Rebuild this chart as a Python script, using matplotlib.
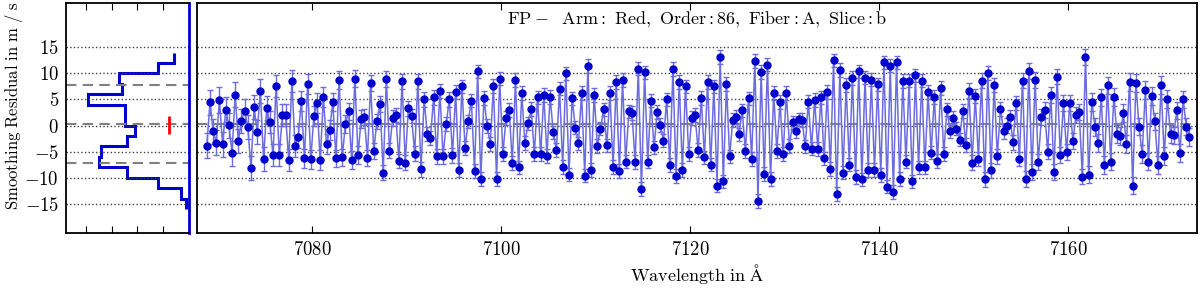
import numpy as np
import matplotlib
matplotlib.use('Agg')
import matplotlib.pyplot as plt

plt.rcParams['mathtext.fontset'] = 'cm'
plt.rcParams['font.family'] = ['cmr10', 'DejaVu Serif']
plt.rcParams['axes.formatter.use_mathtext'] = True
plt.rcParams['font.size'] = 13

# FP comb lines: first line and line spacing (Angstrom)
wl_first = 7068.84
wl_step = 0.3332

# smoothing residuals in m/s, read point by point from left to right
residual = [
    -3.9, 4.5, -1.1, -3.3, 4.9, -3.6, 3.0, 0.1, -5.3, 5.9,
    -2.9, 0.9, 2.8, -0.2, -8.1, 3.5, -1.3, 6.6, -6.5, 3.3,
    0.6, -5.6, 7.5, -5.6, 2.0, 2.0, -6.6, 8.5, -3.9, -2.2,
    4.7, -6.3, 8.0, -6.5, 1.9, 4.3, -6.6, 5.5, -3.6,
    -0.8, 4.5, -6.3, 8.7, -6.1, 0.3, 2.7, -6.6, 9.0, -5.7,
    1.2, 1.7, -6.2, 8.1, -4.9, 0.8, 4.1, -9.0, 8.9, -4.8,
    1.5, 2.0, -6.8, 8.5, -7.1, 3.3, 1.8, -5.4, 8.5, -8.4,
    5.0, -1.6, -2.4, 5.4, -5.9, 6.6, -5.9, 0.3, 5.0, -5.7,
    6.4, -8.5, 7.5, -4.3, 0.8, 4.8, -8.7, 10.4, -10.2, 5.3,
    -0.1, -3.5, 7.6, -10.2, 9.0, -5.5, 1.4, 3.0, -7.2, 8.7,
    -8.0, 6.2, -3.3, 0.4, 3.2, -5.5, 5.4, -5.5, 5.9, -5.8,
    5.5, -1.3, -4.7, 7.1, -7.9, 10.0, -9.4, 5.2, -0.4, -3.4,
    6.2, -9.6, 11.4, -8.5, 5.9, -3.9, -0.6, 3.1, -3.8, 6.2,
    -7.9, 8.3, -8.7, 8.7, -6.9, 2.7, 2.4, -7.0, 10.9, -12.2,
    10.2, -6.9, 4.8, -4.2, 2.6, 0.1, -2.9, 5.0, -7.6, 10.8,
    -9.7, 8.4, -8.5, 7.5, -5.4, 1.5, 2.0, -4.7, 5.3, -6.1,
    8.4, -7.5, 7.5, -11.5, 13.1, -10.7, 8.0, -5.9, 1.1, 1.6,
    -1.7, 2.9, -4.9, 5.2, -6.4, 12.4, -14.5, 10.3, -9.3, 11.7,
    -10.2, 6.2, -4.9, 4.5, -5.5, 6.2, -3.9, 0.6, -1.0, 1.2,
    1.1, -4.0, 4.6, -4.4, 4.9, -4.5, 5.4, -6.3, 6.4,
    -8.3, 12.5, -13.1, 10.6, -9.0, 7.8, -7.5, 9.1, -9.9, 10.4,
    -10.3, 9.2, -8.5, 8.8, -8.5, 7.9, -9.5, 12.1, -11.7, 11.5,
    -12.7, 12.1, -10.2, 8.5, -6.9, 8.6, -10.7, 9.6, -8.0, 8.6,
    -8.0, 6.4, -5.2, 5.5, -6.8, 7.2, -5.4, 3.1, -1.0, 1.4,
    -0.6, -2.7, 2.8, -3.7, 6.7, -7.1, 5.7, -6.4, 8.6, -10.3,
    10.1, -8.6, 7.8, -5.9, 3.2, -1.1, 0.0, 1.6, -3.2, 4.3,
    -6.4, 8.6, -10.3, 10.4, -8.9, 8.7, -7.0, 1.6, 3.0, -5.0,
    5.9, -8.9, 9.4, -5.7, 4.3, -5.1, 4.3, -2.9, 2.0,
    2.6, -9.8, 13.1, -9.4, 4.5, -0.3, -3.3, 5.4, -7.6, 7.7,
    -6.9, 5.5, -1.6, -2.0, 2.4, -3.5, 8.4, -11.5, 8.1, -0.2,
    -5.5, 6.8, -6.9, 5.7, 0.8, -7.5, 7.8, -5.9, 5.1, -1.6,
    -1.9, 2.9, -5.2, 5.0, -0.2, -2.2,
]

# error bar half-lengths (m/s), read in stretches along the order
residual_err = ([2.4] * 10 + [2.3] * 10 + [2.1] * 10 + [1.9] * 10 + [1.7] * 10
                + [1.5] * 10 + [1.4] * 20 + [1.3] * 160 + [1.4] * 20
                + [1.5] * 20 + [1.7] * 33)

# histogram of the residuals (left panel)
hist_edges = [-16, -14, -12, -10, -8, -6, -4, -2, 0, 2, 4, 6, 8, 10, 12, 14]
hist_counts = [1, 3, 12, 24, 35, 34, 24, 21, 25, 25, 39, 26, 27, 12, 6]

res_mean = 0.3
res_std = 7.4
median_err = 1.75
err_marker_pos = 7.7

y_ticks = [-15, -10, -5, 0, 5, 10, 15]
x_ticks = [7080, 7100, 7120, 7140, 7160]

wl = wl_first + wl_step * np.arange(len(residual))


def cm(v):
    return r'$\mathrm{%s}$' % v


title = cm(r'FP-\ \ Arm:\ Red,\ Order:86,\ Fiber:A,\ Slice:b')
blue = '#0000cc'
light = '#6c6ce0'

fig = plt.figure(figsize=(12, 2.88), dpi=100)
ax_h = fig.add_axes([66 / 1200, 55 / 288, 123 / 1200, 230 / 288])
ax = fig.add_axes([197 / 1200, 55 / 288, 1000 / 1200, 230 / 288])

ylims = (-20.6, 23.5)

# left: histogram
ax_h.stairs(hist_counts, hist_edges, orientation='horizontal', color=blue, lw=2.2, baseline=None)
for yy in (res_mean, res_mean + res_std, res_mean - res_std):
    ax_h.axhline(yy, ls='--', color='gray', lw=1.5, dashes=(5, 3))
ax_h.errorbar(err_marker_pos, 0.05, yerr=median_err, fmt='none', ecolor='red', elinewidth=2)
ax_h.set_xlim(47.7, 0)
ax_h.set_ylim(*ylims)
ax_h.set_yticks(y_ticks)
ax_h.set_yticklabels([cm(t) for t in y_ticks], fontsize=13.5)
ax_h.set_xticks([0, 10, 20, 30, 40])
ax_h.set_xticklabels([])
ax_h.yaxis.grid(True, ls=':', color='0.25', lw=1)
ax_h.tick_params(axis='x', direction='in', top=True, length=5)
ax_h.tick_params(axis='y', length=0, pad=5)
ax_h.spines['right'].set_color(blue)
ax_h.spines['right'].set_linewidth(2.0)
for s in ['left', 'top', 'bottom']:
    ax_h.spines[s].set_linewidth(1.3)
ax_h.set_ylabel(cm(r'Smoothing\ Residual\ in\ m\ /\ s'), fontsize=12)
ax_h.yaxis.set_label_coords(-0.33, 0.555)

# right: residuals vs wavelength
ax.plot(wl, residual, '-', color=light, lw=1.1)
ax.errorbar(wl, residual, yerr=residual_err, fmt='o', ms=5, mfc=blue, mec=blue,
            ecolor=light, elinewidth=1, capsize=2.2, capthick=1, zorder=3)
ax.axhline(res_mean, ls='--', color='gray', lw=1.5, dashes=(5, 3), zorder=1)
ax.set_xlim(7067.8, 7173.6)
ax.set_ylim(*ylims)
ax.set_yticks(y_ticks)
ax.set_yticklabels([])
ax.set_xticks(x_ticks)
ax.set_xticklabels([cm(t) for t in x_ticks], fontsize=13.5)
ax.yaxis.grid(True, ls=':', color='0.25', lw=1)
ax.tick_params(axis='x', direction='in', top=True, length=5, pad=6)
ax.tick_params(axis='y', length=0)
for s in ax.spines.values():
    s.set_linewidth(1.3)
ax.set_xlabel(cm(r'Wavelength\ in\ \AA'), labelpad=2)
ax.text(0.5, 0.925, title, transform=ax.transAxes, ha='center', va='center')

fig.savefig('out.png', dpi=100)
